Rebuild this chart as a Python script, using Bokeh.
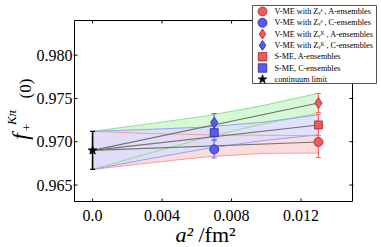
import math
from bokeh.plotting import figure
from bokeh.models import Range1d, Label
from bokeh.core.properties import value
from bokeh.embed import file_html
from bokeh.resources import INLINE

# ---------------- data ----------------
a2_A = 0.013
a2_C = 0.007
a2_cont = 0.0

vme_s_A, vme_s_A_err = 0.96997, 0.0018
vme_s_C, vme_s_C_err = 0.96912, 0.0010
vme_K_A, vme_K_A_err = 0.97447, 0.0011
vme_K_C, vme_K_C_err = 0.97221, 0.00105
sme_A, sme_A_err = 0.97194, 0.0012
sme_C, sme_C_err = 0.97105, 0.0008
cont, cont_err = 0.9690, 0.0022

band_x = [0.0, 0.00325, 0.0065, 0.00975, 0.013]
green_hi = [0.9712, 0.97206, 0.97297, 0.97415, 0.9756]
green_lo = [0.9668, 0.96866, 0.97047, 0.97203, 0.9733]
blue_hi = [0.9712, 0.97143, 0.9717, 0.97224, 0.97312]
blue_lo = [0.9668, 0.96803, 0.9692, 0.97012, 0.97080]
red_hi = [0.9712, 0.97095, 0.9708, 0.97075, 0.9707]
red_lo = [0.9668, 0.96755, 0.96825, 0.96865, 0.9687]

fit_x = [0.0, 0.013]
fit_green = [0.9690, 0.97447]
fit_blue = [0.9690, 0.97194]
fit_red = [0.9690, 0.96997]

x_ticks = [0.0, 0.004, 0.008, 0.012]
x_tick_labels = ["0.0", "0.004", "0.008", "0.012"]
y_ticks = [0.965, 0.970, 0.975, 0.980]
y_tick_labels = ["0.965", "0.970", "0.975", "0.980"]

legend_labels = [
    "V-ME with Zᵥˢ , A-ensembles",
    "V-ME with Zᵥˢ , C-ensembles",
    "V-ME with Zᵥᴷ , A-ensembles",
    "V-ME with Zᵥᴷ , C-ensembles",
    "S-ME, A-ensembles",
    "S-ME, C-ensembles",
    "continuum limit",
]
legend_markers = ["circle", "circle", "diamond", "diamond", "square",
                  "square", "star"]

# ---------------- geometry ----------------
W, H = 381, 247
XMIN, XMAX = -0.00104, 0.01496       # visible plot box
YMIN, YMAX = 0.9631, 0.9840
FL, FR, FT, FB = 74, 352, 20, 201     # plot box in pixels
PXX = (FR - FL) / (XMAX - XMIN)
PXY = (FB - FT) / (YMAX - YMIN)


def dx(px):
    return XMIN + (px - FL) / PXX


def dy(py):
    return YMAX - (py - FT) / PXY


p = figure(frame_width=W, frame_height=H, min_border=0,
           x_range=Range1d(dx(0), dx(W)), y_range=Range1d(dy(H), dy(0)),
           x_axis_location=None, y_axis_location=None,
           output_backend="svg", toolbar_location=None)
p.xgrid.visible = False
p.ygrid.visible = False
p.outline_line_color = None
p.background_fill_color = "white"
p.border_fill_color = "white"

FONT = "Liberation Serif"

# ---------------- bands ----------------
bands = [
    (green_hi, green_lo, "#d6f8d6", 1.0, "#8fe08f"),
    (red_hi, red_lo, "#fbdcdc", 1.0, "#f3a0a0"),
    (blue_hi, blue_lo, "#dcdcfb", 0.85, "#9f9ff2"),
]
for hi, lo, fc, fa, lc in bands:
    p.patch(band_x + band_x[::-1], hi + lo[::-1], fill_color=fc,
            fill_alpha=fa, line_color=None)
for hi, lo, fc, fa, lc in bands:
    p.line(band_x, hi, line_color=lc, line_width=1)
    p.line(band_x, lo, line_color=lc, line_width=1)

for fy in (fit_green, fit_blue, fit_red):
    p.line(fit_x, fy, line_color="#727272", line_width=1.1)

# ---------------- error bars ----------------
RED_E = "#f26a6a"
BLUE_E = "#6a6af2"
pts = [
    (a2_A, vme_s_A, vme_s_A_err, RED_E),
    (a2_A, vme_K_A, vme_K_A_err, RED_E),
    (a2_A, sme_A, sme_A_err, RED_E),
    (a2_C, vme_s_C, vme_s_C_err, BLUE_E),
    (a2_C, vme_K_C, vme_K_C_err, BLUE_E),
    (a2_C, sme_C, sme_C_err, BLUE_E),
]
for x, y, e, c in pts:
    p.segment(x0=[x], x1=[x], y0=[y - e], y1=[y + e], line_color=c,
              line_width=1.2)
    p.scatter([x, x], [y - e, y + e], marker="dash", size=5,
              line_color=c, line_width=1)
p.segment(x0=[a2_cont], x1=[a2_cont], y0=[cont - cont_err],
          y1=[cont + cont_err], line_color="black", line_width=1.6)
p.scatter([a2_cont, a2_cont], [cont - cont_err, cont + cont_err],
          marker="dash", size=5, line_color="black", line_width=1.2)

# ---------------- markers ----------------
RF, RL = "#f05a5a", "#a02828"
BF, BL = "#5a5af0", "#2828a0"
p.scatter([a2_A], [vme_s_A], marker="circle", size=9,
          fill_color=RF, line_color=RL, line_width=0.8)
p.scatter([a2_C], [vme_s_C], marker="circle", size=9,
          fill_color=BF, line_color=BL, line_width=0.8)
p.scatter([a2_A], [vme_K_A], marker="diamond", size=11,
          fill_color=RF, line_color=RL, line_width=0.8)
p.scatter([a2_C], [vme_K_C], marker="diamond", size=11,
          fill_color=BF, line_color=BL, line_width=0.8)
p.scatter([a2_A], [sme_A], marker="square", size=8,
          fill_color=RF, line_color=RL, line_width=0.8)
p.scatter([a2_C], [sme_C], marker="square", size=8,
          fill_color=BF, line_color=BL, line_width=0.8)
p.scatter([a2_cont], [cont], marker="star", size=9,
          fill_color="black", line_color="black")

# ---------------- plot box, ticks, tick labels ----------------
p.quad(left=[XMIN], right=[XMAX], bottom=[YMIN], top=[YMAX],
       fill_color=None, line_color="black", line_width=1)
TX = 3 / PXY
TY = 3 / PXX
nx, ny = len(x_ticks), len(y_ticks)
p.segment(x0=x_ticks, x1=x_ticks, y0=[YMIN] * nx, y1=[YMIN + TX] * nx,
          line_color="black", line_width=1)
p.segment(x0=x_ticks, x1=x_ticks, y0=[YMAX] * nx, y1=[YMAX - TX] * nx,
          line_color="black", line_width=1)
p.segment(x0=[XMIN - 1 / PXX] * ny, x1=[XMIN + TY] * ny, y0=y_ticks,
          y1=y_ticks, line_color="black", line_width=1)
p.segment(x0=[XMAX - TY] * ny, x1=[XMAX + 1 / PXX] * ny, y0=y_ticks,
          y1=y_ticks, line_color="black", line_width=1)
p.text(x=x_ticks, y=[dy(215)] * nx, text=x_tick_labels,
       text_font=value(FONT), text_font_size="16px", text_align="center",
       text_baseline="alphabetic", text_color="black")
p.text(x=[dx(72)] * ny, y=y_ticks, text=y_tick_labels,
       text_font=value(FONT), text_font_size="16px", text_align="right",
       text_baseline="middle", text_color="black")

# ---------------- legend ----------------
p.quad(left=[dx(252)], right=[dx(376)], bottom=[dy(83)], top=[dy(5)],
       fill_color="white", line_color="#555555", line_width=1)
leg_fill = [RF, BF, RF, BF, RF, BF, "black"]
leg_line = [RL, BL, RL, BL, RL, BL, "black"]
leg_size = [9, 9, 10, 10, 8.5, 8.5, 9]
leg_y = [dy(11 + 11.3 * i) for i in range(len(legend_labels))]
for mk, fc, lc, sz, yy in zip(legend_markers, leg_fill, leg_line, leg_size,
                              leg_y):
    p.scatter([dx(262)], [yy], marker=mk, size=sz, fill_color=fc,
              line_color=lc, line_width=0.8)
p.text(x=[dx(274)] * len(legend_labels), y=leg_y, text=legend_labels,
       text_font=value(FONT), text_font_size="8.2px", text_align="left",
       text_baseline="middle", text_color="black")


# ---------------- axis labels ----------------
def lab(px, py, text, size, italic=False, angle=0.0, align="center",
        baseline="middle"):
    p.add_layout(Label(x=dx(px), y=dy(py), text=text, angle=angle,
                       text_font=FONT,
                       text_font_style="italic" if italic else "normal",
                       text_font_size=size, text_align=align,
                       text_baseline=baseline, text_color="black"))


R = math.pi / 2
lab(20, 136, "f", "23px", True, R)
lab(26, 127, "+", "13px", False, R)
lab(11, 117, "Kπ", "13px", True, R)
lab(25, 88, "(0)", "17px", False, R)

lab(175, 234, "a²", "22px", True, 0.0, "left", "alphabetic")
lab(198, 234, "/fm²", "22px", False, 0.0, "left", "alphabetic")

open("out.html", "w").write(file_html(p, INLINE))
